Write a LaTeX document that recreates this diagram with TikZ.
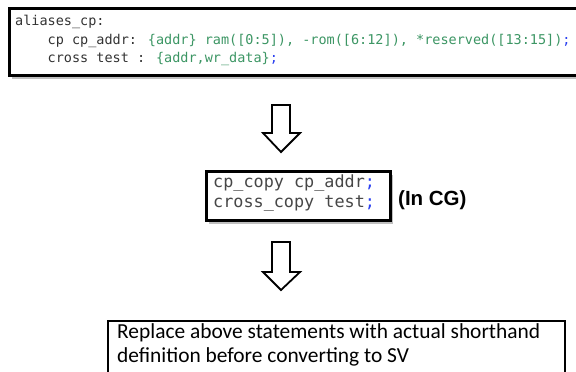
\documentclass[tikz,border=0pt]{standalone}
\usepackage{fontspec}
\setmainfont{Carlito}
\newfontfamily\codefont{DejaVu Sans Mono}
\newfontfamily\labelfont{Liberation Sans}
\usetikzlibrary{shadows}
\definecolor{codegray}{HTML}{333333}
\definecolor{codegreen}{HTML}{3C9664}
\definecolor{codeblue}{HTML}{2A40F0}
\tikzset{
  codebox/.style={draw=black, line width=3pt, fill=white, inner sep=0pt, outer sep=0pt,
    drop shadow={shadow xshift=2pt, shadow yshift=-3pt, fill=black!55, opacity=0.45}},
  notebox/.style={draw=black, line width=2pt, fill=white, inner sep=0pt, outer sep=0pt},
  blockarrow/.style={draw=black, line width=1.8pt, fill=white, line join=miter},
  codetop/.style={anchor=base west, inner sep=0pt, font=\codefont\fontsize{13.5}{16}\selectfont, text=codegray},
  codemid/.style={anchor=base west, inner sep=0pt, font=\codefont\fontsize{16.8}{20}\selectfont, text=codegray!90},
  notetext/.style={anchor=base west, inner sep=0pt, font=\fontsize{21.4}{25}\selectfont, text=black},
}
\begin{document}
\begin{tikzpicture}[x=1pt,y=-1pt]
\useasboundingbox (0,0) rectangle (576,372);
\clip (0,0) rectangle (576,372);
\fill[white] (0,0) rectangle (576,372);

% top code box
\node[codebox, anchor=north west, minimum width=576pt, minimum height=67pt] (top) at (9.5,8.5) {};
\node[codetop] (l1) at (15,25) {aliases\_cp:};
\node[codetop] (l2) at (47.5,44) {cp cp\_addr: \textcolor{codegreen}{\{addr\} ram([0:5]), -rom([6:12]), *reserved([13:15])}\textcolor{codeblue}{;}};
\node[codetop] (l3) at (47.5,62) {cross test : \textcolor{codegreen}{\{addr,wr\_data\}}\textcolor{codeblue}{;}};

% arrow 1
\draw[blockarrow] (272,105) -- (290,105) -- (290,133) -- (300,133) -- (281,152) -- (263,133) -- (272,133) -- cycle;

% middle code box
\node[codebox, anchor=north west, minimum width=184pt, minimum height=49pt] (mid) at (206.5,171.5) {};
\node[codemid] (m1) at (213,187) {cp\_copy cp\_addr\textcolor{codeblue}{;}};
\node[codemid] (m2) at (213,207) {cross\_copy test\textcolor{codeblue}{;}};
\node[anchor=base west, inner sep=0pt, font=\labelfont\bfseries\fontsize{20.5}{24}\selectfont] (cg) at (398,205) {(In CG)};

% arrow 2
\draw[blockarrow] (272,242) -- (290,242) -- (290,272) -- (300,272) -- (281,290) -- (263,272) -- (272,272) -- cycle;

% bottom note box
\node[notebox, anchor=north west, minimum width=457pt, minimum height=70pt] (note) at (108,321) {};
\node[notetext] (n1) at (117,338) {Replace above statements with actual shorthand};
\node[notetext] (n2) at (117,362) {definition before converting to SV};
\end{tikzpicture}
\end{document}
